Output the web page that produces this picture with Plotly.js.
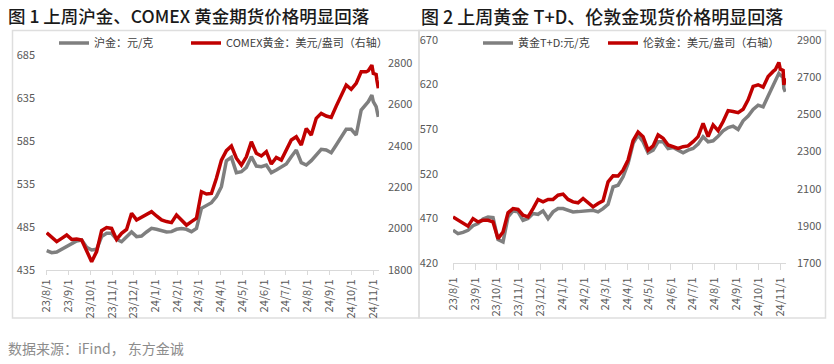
<!DOCTYPE html>
<html>
<head>
<meta charset="utf-8">
<script src="https://cdn.plot.ly/plotly-3.0.1.min.js"></script>
<style>html,body{margin:0;padding:0;background:#fff;}#chart{width:834px;height:364px;}</style>
</head>
<body>
<div id="chart"></div>
<script>
// dates shared by all series (weekly readings + last days)
const dates = [
 '2023-08-01','2023-08-08','2023-08-15','2023-08-22','2023-08-29','2023-09-05','2023-09-12','2023-09-19','2023-09-26','2023-10-03',
 '2023-10-10','2023-10-17','2023-10-24','2023-10-31','2023-11-07','2023-11-14','2023-11-21','2023-11-28','2023-12-05','2023-12-12',
 '2023-12-19','2023-12-26','2024-01-02','2024-01-09','2024-01-16','2024-01-23','2024-01-30','2024-02-06','2024-02-13','2024-02-20',
 '2024-02-27','2024-03-05','2024-03-12','2024-03-19','2024-03-26','2024-04-02','2024-04-09','2024-04-16','2024-04-23','2024-04-30',
 '2024-05-07','2024-05-14','2024-05-21','2024-05-28','2024-06-04','2024-06-11','2024-06-18','2024-06-25','2024-07-02','2024-07-09',
 '2024-07-16','2024-07-23','2024-07-30','2024-08-06','2024-08-13','2024-08-20','2024-08-27','2024-09-03','2024-09-10','2024-09-17',
 '2024-09-24','2024-10-01','2024-10-08','2024-10-15','2024-10-22','2024-10-25','2024-10-30','2024-11-01','2024-11-05','2024-11-06',
 '2024-11-08'
];

// Chart 1: SHFE gold (CNY/g, left axis)
const shfeGold = [
 457.5,455.2,455.9,459.0,462.1,466.0,468.7,469.9,461.4,458.3,
 459.0,473.8,477.6,477.6,470.7,467.9,473.8,479.2,473.8,474.5,
 479.2,483.4,482.3,480.7,479.2,479.6,482.3,483.1,482.3,479.6,
 483.4,506.7,510.6,513.3,520.3,531.9,562.1,566.0,548.2,549.3,
 554.4,566.8,555.9,555.2,557.1,548.2,551.3,554.4,558.3,566.8,
 574.5,559.8,557.1,562.1,568.7,575.3,574.5,571.4,580.3,589.3,
 598.6,598.6,592.0,621.0,628.8,630.7,638.4,630.7,625.0,619.0,
 613.0
];
// Chart 1: COMEX gold (USD/oz, right axis)
const comexGold = [
 1980,1961,1937,1953,1969,1948,1950,1945,1897,1840,
 1889,1990,2005,2001,1948,1977,1996,2074,2042,2054,
 2066,2082,2061,2042,2034,2029,2066,2042,2017,2034,
 2050,2178,2167,2170,2243,2331,2377,2399,2340,2307,
 2347,2420,2364,2351,2372,2312,2344,2331,2383,2428,
 2444,2404,2484,2452,2533,2557,2544,2537,2592,2645,
 2694,2673,2702,2758,2758,2763,2790,2750,2745,2718,
 2678
];
// Chart 2: Au(T+D) (CNY/g, left axis)
const goldTD = [
 456.7,452.9,454.4,456.7,461.9,464.2,469.4,471.6,470.9,446.2,
 443.6,471.6,478.4,477.3,467.9,469.8,475.4,474.6,478.4,469.8,
 477.3,481.0,481.0,479.1,477.3,477.6,478.4,478.4,479.1,477.3,
 481.0,485.9,505.3,507.2,516.6,531.5,554.0,563.3,555.9,543.5,
 546.5,555.9,555.9,548.4,549.5,546.5,543.5,546.5,548.4,553.2,
 561.5,555.9,557.0,562.2,568.2,571.9,573.4,569.7,579.4,584.7,
 592.2,597.0,595.1,607.1,619.5,624.3,632.6,630.7,628.1,615.7,
 612.0
];
// Chart 2: London spot gold (USD/oz, right axis)
const londonGold = [
 1948,1930,1912,1898,1939,1921,1930,1930,1921,1831,
 1867,1970,1993,1988,1957,1948,1993,2042,2029,2042,
 2042,2065,2071,2042,2029,2024,2047,2024,2002,2020,
 2035,2137,2169,2168,2200,2254,2358,2405,2380,2308,
 2330,2389,2371,2335,2326,2317,2326,2330,2353,2380,
 2452,2380,2443,2412,2461,2520,2515,2509,2527,2578,
 2650,2659,2646,2704,2731,2740,2779,2743,2736,2659,
 2695
];

const monthTicks = ['2023-08-01','2023-09-01','2023-10-01','2023-11-01','2023-12-01','2024-01-01','2024-02-01','2024-03-01',
 '2024-04-01','2024-05-01','2024-06-01','2024-07-01','2024-08-01','2024-09-01','2024-10-01','2024-11-01'];
const monthLabels = ['23/8/1','23/9/1','23/10/1','23/11/1','23/12/1','24/1/1','24/2/1','24/3/1',
 '24/4/1','24/5/1','24/6/1','24/7/1','24/8/1','24/9/1','24/10/1','24/11/1'];

const title1 = '图 1 上周沪金、COMEX 黄金期货价格明显回落';
const title2 = '图 2 上周黄金 T+D、伦敦金现货价格明显回落';
const sourceText = '数据来源：iFind， 东方金诚';

const W = 834, H = 364;
const px = v => v / W;
const py = v => 1 - v / H;

const GRAY = '#7f7f7f', RED = '#c00000';
const FONT = '"Noto Sans CJK SC", "Noto Sans", sans-serif';
const tickFont = {family: FONT, size: 11, color: '#595959'};

const traces = [
 {x: dates, y: shfeGold, name: '沪金：元/克', type: 'scatter', mode: 'lines', xaxis: 'x', yaxis: 'y',
  line: {color: GRAY, width: 3.5}, legend: 'legend', legendwidth: 87},
 {x: dates, y: comexGold, name: 'COMEX黄金：美元/盎司（右轴）', type: 'scatter', mode: 'lines', xaxis: 'x', yaxis: 'y2',
  line: {color: RED, width: 3.5}, legend: 'legend'},
 {x: dates, y: goldTD, name: '黄金T+D:元/克', type: 'scatter', mode: 'lines', xaxis: 'x2', yaxis: 'y3',
  line: {color: GRAY, width: 3.5}, legend: 'legend2', legendwidth: 80},
 {x: dates, y: londonGold, name: '伦敦金：美元/盎司（右轴）', type: 'scatter', mode: 'lines', xaxis: 'x2', yaxis: 'y4',
  line: {color: RED, width: 3.5}, legend: 'legend2'}
];

const xCommon = {
 type: 'date', tickmode: 'array', tickvals: monthTicks, ticktext: monthLabels, tickangle: -90,
 showgrid: false, zeroline: false, showline: true, linecolor: '#d9d9d9', linewidth: 1,
 ticks: 'outside', ticklen: 4, tickcolor: '#d9d9d9', tickfont: tickFont, fixedrange: true
};
const yCommon = {showgrid: false, zeroline: false, showline: false, ticks: '', tickfont: tickFont, fixedrange: true};

const legendCommon = {orientation: 'h', xanchor: 'left', yanchor: 'middle', bgcolor: 'rgba(0,0,0,0)',
 font: {family: FONT, size: 11, color: '#404040'}, itemwidth: 30, tracegroupgap: 0, itemclick: false};

const layout = {
 width: W, height: H, margin: {l: 0, r: 0, t: 0, b: 0}, paper_bgcolor: '#fff', plot_bgcolor: 'rgba(0,0,0,0)',
 font: {family: FONT},
 xaxis: Object.assign({}, xCommon, {domain: [px(46), px(379)], range: ['2023-07-31', '2024-11-09'], anchor: 'y'}),
 yaxis: Object.assign({}, yCommon, {domain: [py(270), py(55)], range: [435, 685], tickmode: 'linear', tick0: 435, dtick: 50,
  anchor: 'x', ticklabelstandoff: 10}),
 yaxis2: Object.assign({}, yCommon, {overlaying: 'y', side: 'right', anchor: 'x', range: [1800, 2839],
  tickmode: 'linear', tick0: 1800, dtick: 200, ticklabelstandoff: 8}),
 xaxis2: Object.assign({}, xCommon, {domain: [px(453), px(786)], range: ['2023-08-01', '2024-11-09'], anchor: 'y3',
  ticklen: 6, ticklabelstandoff: 3}),
 yaxis3: Object.assign({}, yCommon, {domain: [py(263), py(40)], range: [420, 670], tickmode: 'linear', tick0: 420, dtick: 50,
  anchor: 'x2', ticklabelstandoff: 14}),
 yaxis4: Object.assign({}, yCommon, {overlaying: 'y3', side: 'right', anchor: 'x2', range: [1700, 2900],
  tickmode: 'linear', tick0: 1700, dtick: 200, ticklabelstandoff: 10}),
 legend: Object.assign({}, legendCommon, {x: px(54), y: py(43)}),
 legend2: Object.assign({}, legendCommon, {x: px(478), y: py(43)}),
 showlegend: true,
 annotations: [
  {text: title1, xref: 'paper', yref: 'paper', x: px(6), y: py(16), xanchor: 'left', yanchor: 'middle', showarrow: false,
   font: {family: FONT, size: 17.5, color: '#1a1a1a', weight: 500}},
  {text: title2, xref: 'paper', yref: 'paper', x: px(419), y: py(16), xanchor: 'left', yanchor: 'middle', showarrow: false,
   font: {family: FONT, size: 18, color: '#1a1a1a', weight: 500}},
  {text: sourceText, xref: 'paper', yref: 'paper', x: px(6), y: py(348), xanchor: 'left', yanchor: 'middle', showarrow: false,
   font: {family: FONT, size: 14, color: '#8c8c8c'}}
 ],
 shapes: [
  {type: 'rect', xref: 'paper', yref: 'paper', x0: px(12.5), x1: px(419), y0: py(318), y1: py(30.5), layer: 'below',
   line: {color: '#dedede', width: 1.5}},
  {type: 'rect', xref: 'paper', yref: 'paper', x0: px(419), x1: px(825.5), y0: py(318), y1: py(30.5), layer: 'below',
   line: {color: '#dedede', width: 1.5}}
 ]
};

Plotly.newPlot('chart', traces, layout, {displayModeBar: false, staticPlot: true});
</script>
</body>
</html>
